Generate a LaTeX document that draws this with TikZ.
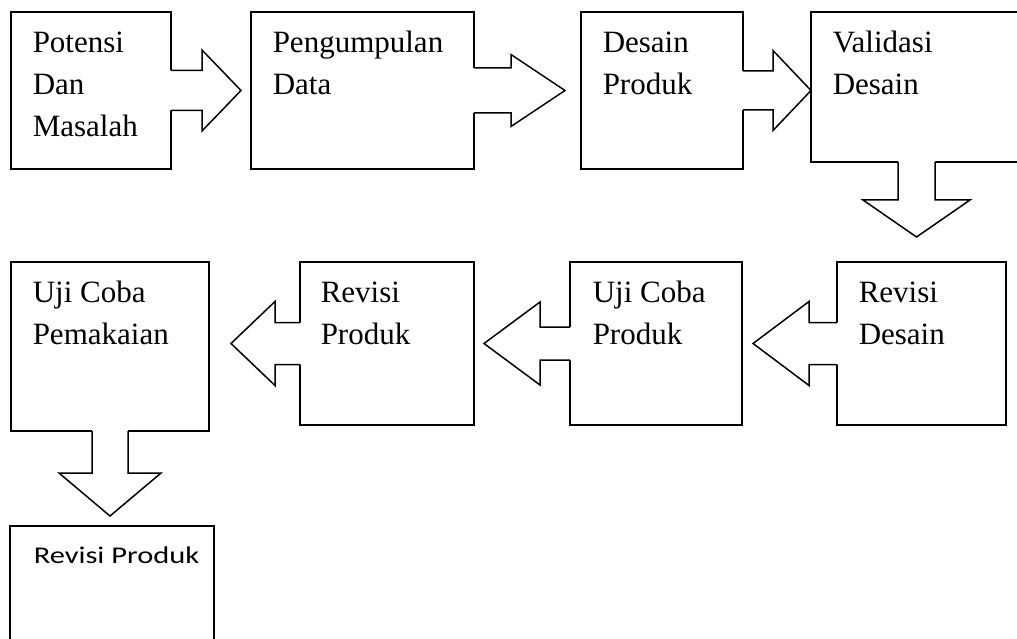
\documentclass[tikz,border=0pt]{standalone}
\usepackage{fontspec}
\setmainfont{Liberation Serif}
\newfontfamily\calfont{Carlito}[FakeStretch=1.27]
\usetikzlibrary{calc}
% block arrow: #1 tail centre, #2 rotation, #3 shaft half width, #4 head half width, #5 shaft length, #6 total length
\newcommand\barrowx[6]{%
  \begin{scope}[shift={#1},rotate=#2]
    \fill[white] (-2,-#3) -- (#5,-#3) -- (#5,-#4) -- (#6,0) -- (#5,#4) -- (#5,#3) -- (-2,#3) -- cycle;
    \draw[line join=miter] (0,#3) -- (#5,#3) -- (#5,#4) -- (#6,0) -- (#5,-#4) -- (#5,-#3) -- (0,-#3);
  \end{scope}}
\begin{document}
\begin{tikzpicture}[x=1pt,y=-1pt,line width=1.5pt,
  box/.style={draw,rectangle,anchor=north west,inner sep=0pt,outer sep=0pt},
  lbl/.style={anchor=north west,inner sep=0pt,align=left,font=\fontsize{31}{42}\selectfont},
  slbl/.style={anchor=north west,inner sep=0pt,align=left,font=\calfont\fontsize{24}{30}\selectfont}]
\fill[white] (0,0) rectangle (1017,639);
\useasboundingbox (0,0) rectangle (1017,639);
\clip (0,0) rectangle (1017,639);
% boxes
\node[box,minimum width=160pt,minimum height=157pt] (b1) at (11,12) {};
\node[box,minimum width=223pt,minimum height=157pt] (b2) at (251,12) {};
\node[box,minimum width=162pt,minimum height=157pt] (b3) at (581,12) {};
\node[box,minimum width=220pt,minimum height=150pt] (b4) at (811,12) {};
\node[box,minimum width=198pt,minimum height=169pt] (b5) at (11,262) {};
\node[box,minimum width=174pt,minimum height=163pt] (b6) at (300,262) {};
\node[box,minimum width=172pt,minimum height=163pt] (b7) at (570,262) {};
\node[box,minimum width=169pt,minimum height=163pt] (b8) at (837,262) {};
\node[box,minimum width=204pt,minimum height=140pt] (b9) at (10,526) {};
% labels
\node[lbl] (t1) at ($(b1.north west)+(21,10)$) {\rule{0pt}{30pt}Potensi\\Dan\\Masalah};
\node[lbl] (t2) at ($(b2.north west)+(21,10)$) {\rule{0pt}{30pt}Pengumpulan\\Data};
\node[lbl] (t3) at ($(b3.north west)+(21,10)$) {\rule{0pt}{30pt}Desain\\Produk};
\node[lbl] (t4) at ($(b4.north west)+(21,10)$) {\rule{0pt}{30pt}Validasi\\Desain};
\node[lbl] (t5) at ($(b5.north west)+(21,10)$) {\rule{0pt}{30pt}Uji Coba\\Pemakaian};
\node[lbl] (t6) at ($(b6.north west)+(20,10)$) {\rule{0pt}{30pt}Revisi\\Produk};
\node[lbl] (t7) at ($(b7.north west)+(22,10)$) {\rule{0pt}{30pt}Uji Coba\\Produk};
\node[lbl] (t8) at ($(b8.north west)+(21,10)$) {\rule{0pt}{30pt}Revisi\\Desain};
\node[slbl] (t9) at ($(b9.north west)+(23,7)$) {\rule{0pt}{30pt}Revisi Produk};
% block arrows
\barrowx{(b1.east)}{0}{20}{40.5}{31}{70}
\barrowx{(b2.east)}{0}{22.5}{36}{37}{91}
\barrowx{(b3.east)}{0}{19.5}{40}{30}{68}
\barrowx{($(b4.south west)+(105.5,0)$)}{-90}{18.5}{53.5}{38}{75}
\barrowx{(b8.west)}{180}{21}{42}{28}{84}
\barrowx{(b7.west)}{180}{16.5}{41.5}{30}{86}
\barrowx{(b6.west)}{180}{21}{42}{25}{69}
\barrowx{(b5.south)}{-90}{18}{51}{42}{85}
\end{tikzpicture}
\end{document}
